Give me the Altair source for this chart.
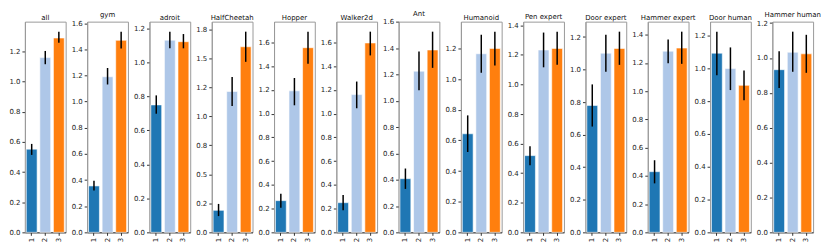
import altair as alt
import pandas as pd

panels = ["all", "gym", "adroit", "HalfCheetah", "Hopper", "Walker2d", "Ant",
          "Humanoid", "Pen expert", "Door expert", "Hammer expert", "Door human",
          "Hammer human"]
cats = ["1", "2", "3"]
colors = ["#1f77b4", "#aec7e8", "#ff7f0e"]

mean1 = [0.552, 0.355, 0.750, 0.19, 0.267, 0.250, 0.408, 0.643, 0.519, 0.780, 0.430, 1.092, 0.933]
lo1 = [0.514, 0.320, 0.698, 0.14, 0.208, 0.187, 0.330, 0.524, 0.453, 0.650, 0.347, 0.957, 0.828]
hi1 = [0.587, 0.395, 0.806, 0.245, 0.325, 0.315, 0.485, 0.763, 0.583, 0.909, 0.511, 1.223, 1.039]

mean2 = [1.160, 1.190, 1.131, 1.215, 1.192, 1.160, 1.225, 1.165, 1.233, 1.101, 1.284, 0.998, 1.033]
lo2 = [1.116, 1.131, 1.083, 1.090, 1.070, 1.045, 1.080, 1.041, 1.116, 0.986, 1.198, 0.867, 0.921]
hi2 = [1.204, 1.257, 1.181, 1.340, 1.300, 1.270, 1.374, 1.289, 1.351, 1.214, 1.366, 1.127, 1.151]

mean3 = [1.290, 1.469, 1.122, 1.600, 1.555, 1.595, 1.386, 1.200, 1.244, 1.130, 1.306, 0.896, 1.024]
lo3 = [1.259, 1.407, 1.083, 1.470, 1.420, 1.490, 1.250, 1.089, 1.133, 1.029, 1.194, 0.805, 0.915]
hi3 = [1.332, 1.535, 1.167, 1.730, 1.690, 1.690, 1.525, 1.309, 1.357, 1.233, 1.422, 0.986, 1.133]

tick_step = [0.2, 0.2, 0.2, 0.25, 0.2, 0.2, 0.2, 0.2, 0.2, 0.2, 0.2, 0.2, 0.2]

FONT = "DejaVu Sans"
charts = []
for i, name in enumerate(panels):
    df = pd.DataFrame({
        "cat": cats,
        "mean": [mean1[i], mean2[i], mean3[i]],
        "lo": [lo1[i], lo2[i], lo3[i]],
        "hi": [hi1[i], hi2[i], hi3[i]],
    })
    ymax = max(hi1[i], hi2[i], hi3[i]) * 1.05
    step = tick_step[i]
    ticks = []
    k = 0
    while k * step <= ymax + 1e-9:
        ticks.append(round(k * step, 4))
        k += 1
    # matplotlib-style one-decimal labels (round half to even)
    parts = []
    for t in ticks:
        parts.append("abs(datum.value-%s)<1e-6?'%s'" % (repr(t), "{:.1f}".format(t)))
    label_expr = ":".join(parts) + ":''"

    yscale = alt.Scale(domain=[0, ymax], nice=False, zero=True)
    yaxis = alt.Axis(title=None, values=ticks, labelExpr=label_expr,
                     labelFontSize=7, tickSize=3, labelPadding=2,
                     domainColor="#999999", tickColor="#333333",
                     labelColor="#222222", labelFont=FONT, grid=False,
                     labelOverlap=False, labelFlush=False)

    base = alt.Chart(df).encode(
        x=alt.X("cat:N", sort=cats,
                scale=alt.Scale(domain=cats, paddingInner=0.2, paddingOuter=0.1),
                axis=alt.Axis(title=None, labelAngle=270, labelFontSize=7,
                              labelAlign="right", labelBaseline="middle",
                              tickSize=3, labelPadding=2, domainColor="#333333",
                              tickColor="#333333", labelColor="#222222",
                              labelFont=FONT, labelOverlap=False))
    )
    bars = base.mark_bar(stroke="white", strokeWidth=0.6).encode(
        y=alt.Y("mean:Q", scale=yscale, axis=yaxis),
        color=alt.Color("cat:N", scale=alt.Scale(domain=cats, range=colors), legend=None),
    )
    err = base.mark_rule(color="black", strokeWidth=1.5).encode(
        y=alt.Y("lo:Q", scale=yscale, axis=yaxis), y2="hi:Q"
    )
    ch = alt.layer(bars, err).properties(
        width=41, height=212,
        title=alt.Title(name, fontSize=7, font=FONT, fontWeight="normal",
                        offset=1, color="#111111"),
    )
    charts.append(ch)

chart = alt.hconcat(*charts, spacing=21.67, bounds="flush").properties(
    padding={"left": 0, "top": 0, "right": 0, "bottom": 0},
).configure_view(stroke="#999999", strokeWidth=1).configure_axis(
    labelOverlap=False
).resolve_scale(y="independent")

chart.save("out.html", embed_options={"renderer": "svg", "actions": False})
